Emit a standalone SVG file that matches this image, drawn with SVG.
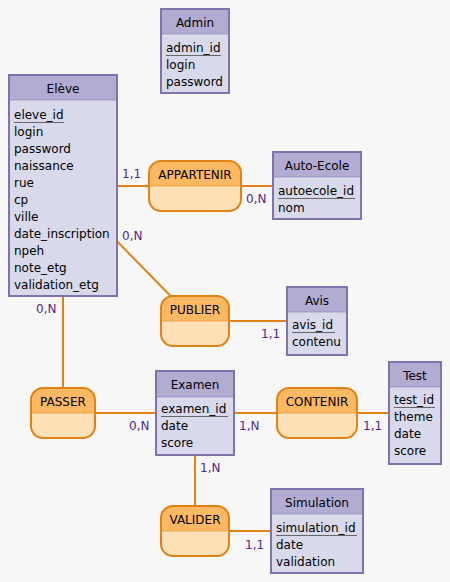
<svg xmlns="http://www.w3.org/2000/svg" width="450" height="582" viewBox="0 0 450 582">
<style>
text{font-family:"DejaVu Sans",sans-serif;font-size:12px;fill:#000}
.eh{fill:#b2abd2}
.eb{fill:#d8daeb}
.eo{fill:none;stroke:#8073ac;stroke-width:2}
.ed{stroke:#8073ac;stroke-width:1;opacity:0.5}
.ah{fill:#fdb863}
.ab{fill:#fee0b6}
.ao{fill:none;stroke:#e08214;stroke-width:2}
.ad{stroke:#e08214;stroke-width:1;opacity:0.5}
.ul{stroke:#666;stroke-width:1}
.c{fill:#542788;font-size:12px}
.t{text-anchor:middle}
#links line{stroke:#e08214;stroke-width:2}
</style>
<rect width="450" height="582" fill="#f7f7f7"/>
<g id="links">
<line x1="63" y1="186" x2="195" y2="186"/>
<line x1="195" y1="186" x2="317" y2="186"/>
<line x1="63" y1="186" x2="195" y2="321"/>
<line x1="195" y1="321" x2="317" y2="321"/>
<line x1="63" y1="186" x2="63" y2="413"/>
<line x1="63" y1="413" x2="195" y2="413"/>
<line x1="195" y1="413" x2="415" y2="413"/>
<line x1="195" y1="413" x2="195" y2="531"/>
<line x1="195" y1="531" x2="317" y2="531"/>
</g>
<g id="cards">
<text class="c" x="122" y="178">1,1</text>
<text class="c" x="246" y="203">0,N</text>
<text class="c" x="122" y="240">0,N</text>
<text class="c" x="261" y="338">1,1</text>
<text class="c" x="36" y="313">0,N</text>
<text class="c" x="129" y="430">0,N</text>
<text class="c" x="239" y="430">1,N</text>
<text class="c" x="363" y="430">1,1</text>
<text class="c" x="200" y="472">1,N</text>
<text class="c" x="245" y="549">1,1</text>
</g>
<g id="admin">
<rect class="eh" x="161" y="9" width="68" height="25"/>
<rect class="eb" x="161" y="34" width="68" height="59"/>
<line class="ed" x1="161" y1="34" x2="229" y2="34"/>
<rect class="eo" x="161" y="9" width="68" height="84"/>
<text class="t" x="195" y="27">Admin</text>
<text x="166" y="52">admin_id</text>
<line class="ul" x1="166" y1="55.5" x2="221" y2="55.5"/>
<text x="166" y="69">login</text>
<text x="166" y="86">password</text>
</g>
<g id="eleve">
<rect class="eh" x="9" y="75" width="108" height="25"/>
<rect class="eb" x="9" y="100" width="108" height="196"/>
<line class="ed" x1="9" y1="100" x2="117" y2="100"/>
<rect class="eo" x="9" y="75" width="108" height="221"/>
<text class="t" x="63" y="93">Elève</text>
<text x="14" y="119">eleve_id</text>
<line class="ul" x1="14" y1="122.5" x2="64" y2="122.5"/>
<text x="14" y="136">login</text>
<text x="14" y="153">password</text>
<text x="14" y="170">naissance</text>
<text x="14" y="187">rue</text>
<text x="14" y="204">cp</text>
<text x="14" y="221">ville</text>
<text x="14" y="238">date_inscription</text>
<text x="14" y="255">npeh</text>
<text x="14" y="272">note_etg</text>
<text x="14" y="289">validation_etg</text>
</g>
<g id="appartenir">
<path class="ah" d="M149,186 V173 a12,12 0 0 1 12,-12 H229 a12,12 0 0 1 12,12 V186 Z"/>
<path class="ab" d="M149,186 V199 a12,12 0 0 0 12,12 H229 a12,12 0 0 0 12,-12 V186 Z"/>
<line class="ad" x1="149" y1="186" x2="241" y2="186"/>
<rect class="ao" x="149" y="161" width="92" height="50" rx="12"/>
<text class="t" x="195" y="179">APPARTENIR</text>
</g>
<g id="autoecole">
<rect class="eh" x="273" y="152" width="88" height="25"/>
<rect class="eb" x="273" y="177" width="88" height="42"/>
<line class="ed" x1="273" y1="177" x2="361" y2="177"/>
<rect class="eo" x="273" y="152" width="88" height="67"/>
<text class="t" x="317" y="170">Auto-Ecole</text>
<text x="278" y="195">autoecole_id</text>
<line class="ul" x1="278" y1="198.5" x2="355" y2="198.5"/>
<text x="278" y="212">nom</text>
</g>
<g id="publier">
<path class="ah" d="M161,321 V308 a12,12 0 0 1 12,-12 H217 a12,12 0 0 1 12,12 V321 Z"/>
<path class="ab" d="M161,321 V334 a12,12 0 0 0 12,12 H217 a12,12 0 0 0 12,-12 V321 Z"/>
<line class="ad" x1="161" y1="321" x2="229" y2="321"/>
<rect class="ao" x="161" y="296" width="68" height="50" rx="12"/>
<text class="t" x="195" y="314">PUBLIER</text>
</g>
<g id="avis">
<rect class="eh" x="287" y="287" width="60" height="25"/>
<rect class="eb" x="287" y="312" width="60" height="43"/>
<line class="ed" x1="287" y1="312" x2="347" y2="312"/>
<rect class="eo" x="287" y="287" width="60" height="68"/>
<text class="t" x="317" y="305">Avis</text>
<text x="292" y="329">avis_id</text>
<line class="ul" x1="292" y1="332.5" x2="335" y2="332.5"/>
<text x="292" y="346">contenu</text>
</g>
<g id="passer">
<path class="ah" d="M31,413 V400 a12,12 0 0 1 12,-12 H83 a12,12 0 0 1 12,12 V413 Z"/>
<path class="ab" d="M31,413 V426 a12,12 0 0 0 12,12 H83 a12,12 0 0 0 12,-12 V413 Z"/>
<line class="ad" x1="31" y1="413" x2="95" y2="413"/>
<rect class="ao" x="31" y="388" width="64" height="50" rx="12"/>
<text class="t" x="63" y="406">PASSER</text>
</g>
<g id="examen">
<rect class="eh" x="156" y="371" width="78" height="26"/>
<rect class="eb" x="156" y="397" width="78" height="58"/>
<line class="ed" x1="156" y1="397" x2="234" y2="397"/>
<rect class="eo" x="156" y="371" width="78" height="84"/>
<text class="t" x="195" y="389">Examen</text>
<text x="161" y="413">examen_id</text>
<line class="ul" x1="161" y1="416.5" x2="228" y2="416.5"/>
<text x="161" y="430">date</text>
<text x="161" y="447">score</text>
</g>
<g id="contenir">
<path class="ah" d="M277,413 V400 a12,12 0 0 1 12,-12 H345 a12,12 0 0 1 12,12 V413 Z"/>
<path class="ab" d="M277,413 V426 a12,12 0 0 0 12,12 H345 a12,12 0 0 0 12,-12 V413 Z"/>
<line class="ad" x1="277" y1="413" x2="357" y2="413"/>
<rect class="ao" x="277" y="388" width="80" height="50" rx="12"/>
<text class="t" x="317" y="406">CONTENIR</text>
</g>
<g id="test">
<rect class="eh" x="389" y="362" width="52" height="25"/>
<rect class="eb" x="389" y="387" width="52" height="77"/>
<line class="ed" x1="389" y1="387" x2="441" y2="387"/>
<rect class="eo" x="389" y="362" width="52" height="102"/>
<text class="t" x="415" y="380">Test</text>
<text x="394" y="404">test_id</text>
<line class="ul" x1="394" y1="407.5" x2="435" y2="407.5"/>
<text x="394" y="421">theme</text>
<text x="394" y="438">date</text>
<text x="394" y="455">score</text>
</g>
<g id="valider">
<path class="ah" d="M161,531 V518 a12,12 0 0 1 12,-12 H217 a12,12 0 0 1 12,12 V531 Z"/>
<path class="ab" d="M161,531 V544 a12,12 0 0 0 12,12 H217 a12,12 0 0 0 12,-12 V531 Z"/>
<line class="ad" x1="161" y1="531" x2="229" y2="531"/>
<rect class="ao" x="161" y="506" width="68" height="50" rx="12"/>
<text class="t" x="195" y="524">VALIDER</text>
</g>
<g id="simulation">
<rect class="eh" x="271" y="489" width="92" height="25"/>
<rect class="eb" x="271" y="514" width="92" height="59"/>
<line class="ed" x1="271" y1="514" x2="363" y2="514"/>
<rect class="eo" x="271" y="489" width="92" height="84"/>
<text class="t" x="317" y="507">Simulation</text>
<text x="276" y="532">simulation_id</text>
<line class="ul" x1="276" y1="535.5" x2="357" y2="535.5"/>
<text x="276" y="549">date</text>
<text x="276" y="566">validation</text>
</g>
</svg>
